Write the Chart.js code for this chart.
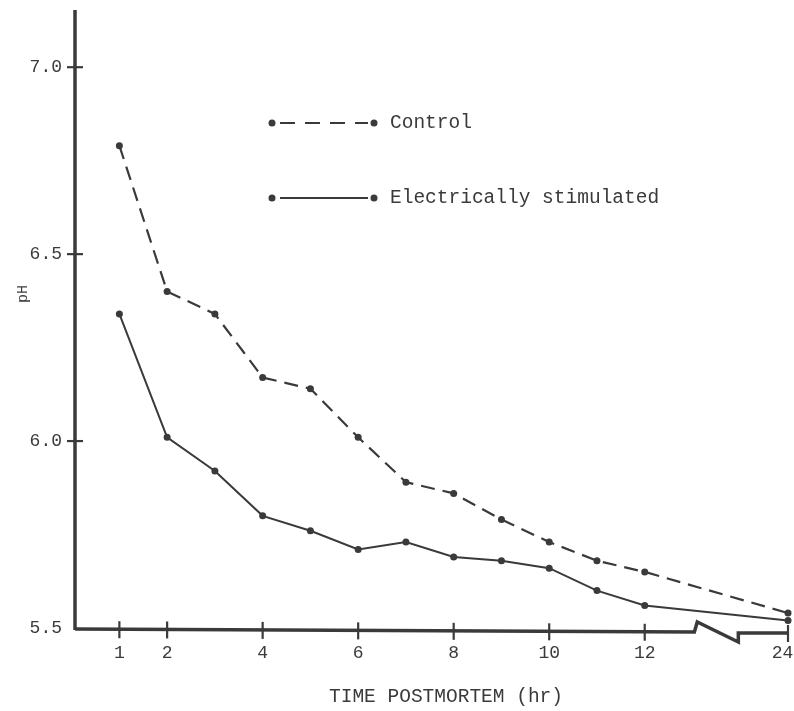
<!DOCTYPE html>
<html>
<head>
<meta charset="utf-8">
<script src="https://cdn.jsdelivr.net/npm/chart.js@4"></script>
<style>
  html, body { margin: 0; padding: 0; background: #fff; }
  #wrap { width: 794px; height: 711px; }
</style>
</head>
<body>
<div id="wrap"><canvas id="phChart"></canvas></div>
<script>
// hours postmortem (axis is broken between 12 and 24)
const hours = [1, 2, 3, 4, 5, 6, 7, 8, 9, 10, 11, 12, 24];
const control = [6.79, 6.40, 6.34, 6.17, 6.14, 6.01, 5.89, 5.86, 5.79, 5.73, 5.68, 5.65, 5.54];
const stimulated = [6.34, 6.01, 5.92, 5.80, 5.76, 5.71, 5.73, 5.69, 5.68, 5.66, 5.60, 5.56, 5.52];
const xTickHours = [1, 2, 4, 6, 8, 10, 12, 24];
const yTickValues = [5.5, 6.0, 6.5, 7.0];

const ink = '#3a3a3a';
const mono = "'Liberation Mono', 'DejaVu Sans Mono', monospace";
const dash = [14, 8];

// 24 hr sits just past the break, at position 15 on the axis
function axisPos(h) {
    return h > 12 ? 15 : h;
}

function toPoints(vals) {
    return hours.map(function(h, i) { return { x: axisPos(h), y: vals[i] }; });
}

const axesPlugin = {
    id: 'paperAxes',
    afterDraw: function(chart) {
        const ctx = chart.ctx;
        const xs = chart.scales.x;
        const ys = chart.scales.y;
        const area = chart.chartArea;
        const x0 = area.left + 1;
        const base = ys.getPixelForValue(5.5) + 1;

        ctx.save();
        ctx.strokeStyle = ink;
        ctx.fillStyle = ink;
        ctx.lineCap = 'butt';

        // y axis
        ctx.lineWidth = 3.5;
        ctx.beginPath();
        ctx.moveTo(x0, 10);
        ctx.lineTo(x0, base + 1);
        ctx.stroke();

        // x axis with break
        const bA = xs.getPixelForValue(13.04);
        const bB = xs.getPixelForValue(13.1);
        const bC = xs.getPixelForValue(13.96);
        ctx.lineWidth = 3.5;
        ctx.beginPath();
        ctx.moveTo(x0, base);
        ctx.lineTo(bA, base + 3);
        ctx.lineTo(bB, base - 7);
        ctx.lineTo(bC, base + 13);
        ctx.lineTo(bC, base + 4);
        ctx.lineTo(xs.getPixelForValue(15), base + 4);
        ctx.stroke();

        // cross ticks
        ctx.lineWidth = 2.2;
        yTickValues.forEach(function(v) {
            if (v === 5.5) return;
            const y = ys.getPixelForValue(v);
            ctx.beginPath();
            ctx.moveTo(x0 - 8, y);
            ctx.lineTo(x0 + 8, y);
            ctx.stroke();
        });
        xTickHours.forEach(function(h) {
            const x = xs.getPixelForValue(axisPos(h));
            const off = h > 12 ? 4 : (x - x0) / (bA - x0) * 3;
            ctx.beginPath();
            ctx.moveTo(x, base + off - 8);
            ctx.lineTo(x, base + off + 9);
            ctx.stroke();
        });

        // axis titles
        ctx.font = '19.5px ' + mono;
        ctx.textAlign = 'center';
        ctx.textBaseline = 'middle';
        ctx.fillText('TIME POSTMORTEM (hr)', 446, 697);

        ctx.save();
        ctx.translate(23, 294);
        ctx.rotate(-Math.PI / 2);
        ctx.font = '15px ' + mono;
        ctx.fillText('pH', 0, 0);
        ctx.restore();

        // legend
        ctx.font = '19.5px ' + mono;
        ctx.textAlign = 'left';
        const rows = [
            { y: 123, dash: [15, 10], text: 'Control' },
            { y: 198, dash: [], text: 'Electrically stimulated' }
        ];
        rows.forEach(function(r) {
            ctx.lineWidth = 2.2;
            ctx.setLineDash(r.dash);
            ctx.beginPath();
            ctx.moveTo(280, r.y);
            ctx.lineTo(368, r.y);
            ctx.stroke();
            ctx.setLineDash([]);
            [272, 374].forEach(function(cx) {
                ctx.beginPath();
                ctx.arc(cx, r.y, 3.5, 0, Math.PI * 2);
                ctx.fill();
            });
            ctx.fillText(r.text, 390, r.y);
        });
        ctx.restore();
    }
};

document.addEventListener("DOMContentLoaded", function() {
    Chart.defaults.font.family = mono;
    Chart.defaults.color = ink;

    const data = {
        datasets: [{
            label: 'Control',
            data: toPoints(control),
            borderColor: ink,
            backgroundColor: ink,
            borderWidth: 2.2,
            borderDash: dash,
            pointRadius: 3.5,
            pointBorderWidth: 0,
            tension: 0
        }, {
            label: 'Electrically stimulated',
            data: toPoints(stimulated),
            borderColor: ink,
            backgroundColor: ink,
            borderWidth: 2,
            pointRadius: 3.5,
            pointBorderWidth: 0,
            tension: 0
        }]
    };

    const config = {
        type: 'line',
        data: data,
        options: {
            responsive: true,
            maintainAspectRatio: false,
            animation: false,
            clip: false,
            layout: {
                padding: { top: 10, right: 6, left: 0, bottom: 0 }
            },
            plugins: {
                legend: { display: false },
                tooltip: { enabled: false }
            },
            scales: {
                x: {
                    type: 'linear',
                    min: 0.05,
                    max: 15,
                    afterFit: function(scale) {
                        scale.height = 83;
                        scale.paddingLeft = 0;
                        scale.paddingRight = 0;
                    },
                    afterBuildTicks: function(scale) {
                        scale.ticks = xTickHours.map(function(h) { return { value: axisPos(h) }; });
                    },
                    ticks: {
                        autoSkip: false,
                        maxRotation: 0,
                        padding: 14,
                        font: { size: 18 },
                        callback: function(v) {
                            const h = xTickHours.find(function(t) { return axisPos(t) === v; });
                            if (h === undefined) return '';
                            // last label sits left of the edge, as in the print
                            return h > 12 ? String(h) + ' ' : String(h);
                        }
                    },
                    grid: { display: false, drawTicks: false },
                    border: { display: false }
                },
                y: {
                    min: 5.5,
                    max: 7.153,
                    afterFit: function(scale) {
                        scale.width = 74;
                        scale.paddingTop = 0;
                        scale.paddingBottom = 0;
                    },
                    afterBuildTicks: function(scale) {
                        scale.ticks = yTickValues.map(function(v) { return { value: v }; });
                    },
                    ticks: {
                        padding: 12,
                        font: { size: 18 },
                        callback: function(v) { return v.toFixed(1); }
                    },
                    grid: { display: false, drawTicks: false },
                    border: { display: false }
                }
            }
        },
        plugins: [axesPlugin]
    };

    var myChart = new Chart(
        document.getElementById('phChart'),
        config
    );
});
</script>
</body>
</html>
